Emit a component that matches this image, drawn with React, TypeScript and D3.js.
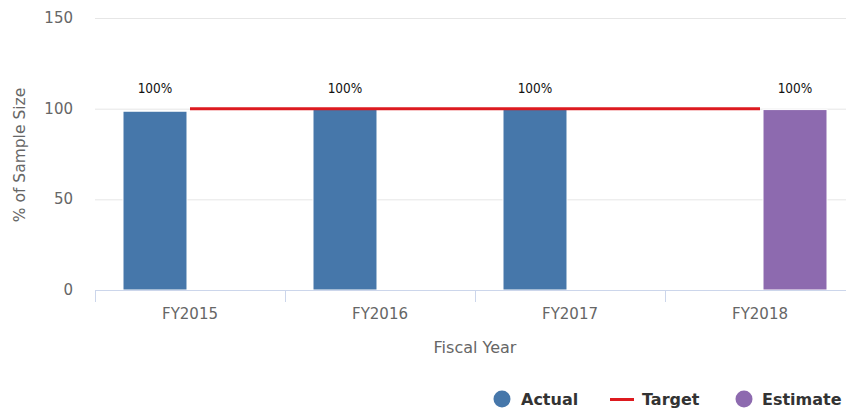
import React from "react";
import * as d3 from "d3";

const width = 846;
const height = 409;

const years = ["FY2015", "FY2016", "FY2017", "FY2018"];
const seriesNames = ["Actual", "Estimate"];
const actual = [98.6, 99.8, 99.8, null];
const estimate = [null, null, null, 99.5];
const target = [100, 100, 100, 100];
const barLabels = ["100%", "100%", "100%", "100%"];
const yTicks = [0, 50, 100, 150];

const blue = "#4677aa";
const purple = "#8d6aaf";
const red = "#dd1a1f";
const grey = "#666666";
const font = "'DejaVu Sans', sans-serif";

// plot area runs past the right edge of the window, like the reference
const left = 95;
const right = 855;
const top = 18;
const bottom = 290;

const x = d3.scaleBand().domain(years).range([left, right]);
const x1 = d3.scaleBand().domain(seriesNames).range([28, 162]).paddingInner(0.086);
const y = d3.scaleLinear().domain([0, 150]).range([bottom, top]);

const targetLine = d3
  .line<number>()
  .x((_, i) => (x(years[i]) ?? 0) + x.bandwidth() / 2)
  .y((d) => y(d));

const App = () => {
  const bars: { year: string; s: string; v: number; label: string }[] = [];
  years.forEach((yr, i) => {
    if (actual[i] != null) bars.push({ year: yr, s: "Actual", v: actual[i] as number, label: barLabels[i] });
    if (estimate[i] != null) bars.push({ year: yr, s: "Estimate", v: estimate[i] as number, label: barLabels[i] });
  });

  const boundaries = [...years.map((d) => x(d) ?? 0), right];

  return (
    <svg
      width={width}
      height={height}
      style={{ position: "absolute", left: 0, top: 0, background: "#fff" }}
    >
      {/* gridlines */}
      {yTicks.slice(1).map((t) => (
        <line key={t} x1={left} x2={width} y1={y(t) + 0.5} y2={y(t) + 0.5} stroke="#e6e6e6" strokeWidth={1} />
      ))}

      {/* y tick labels */}
      {yTicks.map((t) => (
        <text key={t} x={73} y={y(t) + 5} textAnchor="end" fill={grey} fontFamily={font} fontSize={15}>
          {t}
        </text>
      ))}

      {/* y axis title */}
      <text
        transform={`translate(25, 155) rotate(-90)`}
        textAnchor="middle"
        fill={grey}
        fontFamily={font}
        fontSize={15.5}
      >
        % of Sample Size
      </text>

      {/* bars */}
      {bars.map((b) => (
        <rect
          key={b.year + b.s}
          x={(x(b.year) ?? 0) + (x1(b.s) ?? 0)}
          y={y(b.v)}
          width={x1.bandwidth()}
          height={bottom - y(b.v)}
          fill={b.s === "Actual" ? blue : purple}
          stroke="#fff"
          strokeWidth={1}
        />
      ))}

      {/* data labels */}
      {bars.map((b) => (
        <text
          key={"l" + b.year + b.s}
          x={(x(b.year) ?? 0) + (x1(b.s) ?? 0) + x1.bandwidth() / 2}
          y={93}
          textAnchor="middle"
          fill="#111"
          fontFamily="'DejaVu Sans Condensed', 'DejaVu Sans', sans-serif"
          fontSize={13.5}
        >
          {b.label}
        </text>
      ))}

      {/* target line */}
      <path d={targetLine(target) ?? ""} fill="none" stroke={red} strokeWidth={3} />

      {/* x axis */}
      <line x1={left} x2={width} y1={bottom + 0.5} y2={bottom + 0.5} stroke="#ccd6eb" strokeWidth={1} />
      {boundaries.map((bx, i) => (
        <line key={i} x1={bx + 0.5} x2={bx + 0.5} y1={bottom} y2={bottom + 12} stroke="#ccd6eb" strokeWidth={1} />
      ))}
      {years.map((yr) => (
        <text
          key={yr}
          x={(x(yr) ?? 0) + x.bandwidth() / 2}
          y={319}
          textAnchor="middle"
          fill={grey}
          fontFamily={font}
          fontSize={15}
        >
          {yr}
        </text>
      ))}
      <text x={475} y={353} textAnchor="middle" fill={grey} fontFamily={font} fontSize={16}>
        Fiscal Year
      </text>

      {/* legend */}
      <g fontFamily={font} fontSize={16} fontWeight="bold" fill="#333">
        <circle cx={502} cy={399} r={8.5} fill={blue} />
        <text x={521} y={405}>Actual</text>
        <line x1={610} x2={634} y1={399.5} y2={399.5} stroke={red} strokeWidth={3} />
        <text x={642} y={405}>Target</text>
        <circle cx={744} cy={399} r={8.5} fill={purple} />
        <text x={762} y={405}>Estimate</text>
      </g>
    </svg>
  );
};

export default App;
